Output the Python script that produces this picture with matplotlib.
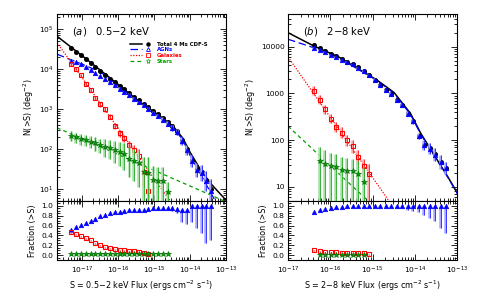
import numpy as np
import matplotlib
matplotlib.use('Agg')
import matplotlib.pyplot as plt
from matplotlib.ticker import (LogLocator, FixedLocator, MultipleLocator,
                               FixedFormatter, NullFormatter, FormatStrFormatter)
from matplotlib.lines import Line2D
from matplotlib.legend_handler import HandlerTuple

plt.rcParams['font.family'] = ['DejaVu Sans']
plt.rcParams['mathtext.fontset'] = 'dejavusans'

# ================= 0.5-2 keV (soft) =================
soft_logS = [-17.30, -17.17, -17.03, -16.90, -16.76, -16.63, -16.50, -16.36, -16.23, -16.09,
             -15.96, -15.83, -15.69, -15.56, -15.42, -15.29, -15.16, -15.02, -14.89, -14.75,
             -14.62, -14.49, -14.35, -14.22, -14.08, -13.95, -13.82, -13.68, -13.55, -13.42]
soft_total = [4.52, 4.43, 4.34, 4.24, 4.14, 4.04, 3.94, 3.84, 3.75, 3.67,
              3.58, 3.49, 3.40, 3.31, 3.22, 3.13, 3.05, 2.95, 2.87, 2.77,
              2.67, 2.57, 2.45, 2.23, 1.99, 1.73, 1.51, 1.43, 1.23, 0.99]
soft_agn = [4.21, 4.17, 4.12, 4.05, 3.97, 3.89, 3.82, 3.74, 3.67, 3.60,
            3.51, 3.43, 3.35, 3.26, 3.17, 3.09, 3.01, 2.90, 2.82, 2.73,
            2.63, 2.53, 2.42, 2.19, 1.97, 1.70, 1.47, 1.39, 1.20, 0.95]
soft_agn_err = [0.03, 0.03, 0.03, 0.03, 0.03, 0.03, 0.03, 0.03, 0.03, 0.03,
                0.03, 0.03, 0.04, 0.04, 0.04, 0.04, 0.05, 0.05, 0.05, 0.06,
                0.06, 0.07, 0.08, 0.10, 0.12, 0.15, 0.18, 0.20, 0.25, 0.30]
soft_gal = [4.12, 4.01, 3.84, 3.63, 3.47, 3.27, 3.12, 2.99, 2.81, 2.58,
            2.39, 2.27, 2.10, 1.97, 1.82, 1.43, 0.96]
soft_gal_err = [0.04, 0.04, 0.04, 0.05, 0.05, 0.05, 0.06, 0.06, 0.07, 0.08,
                0.08, 0.09, 0.10, 0.12, 0.18, 0.35, 0.60]
soft_star = [2.33, 2.29, 2.25, 2.22, 2.18, 2.14, 2.10, 2.06, 2.02, 1.98,
             1.93, 1.88, 1.76, 1.69, 1.64, 1.43, 1.39, 1.23, 1.20, 1.20, 0.92]
soft_star_hi = [0.12, 0.12, 0.13, 0.13, 0.14, 0.15, 0.16, 0.18, 0.20, 0.22,
                0.24, 0.26, 0.28, 0.30, 0.32, 0.38, 0.40, 0.35, 0.35, 0.35, 0.25]
soft_star_lo = [0.12, 0.13, 0.14, 0.15, 0.16, 0.18, 0.20, 0.25, 0.28, 0.32,
                0.35, 0.40, 0.45, 0.50, 0.60, 1.00, 1.00, 1.00, 1.00, 1.00, 1.00]
soft_frac_agn = [0.52, 0.58, 0.62, 0.66, 0.70, 0.74, 0.79, 0.82, 0.85, 0.87,
                 0.88, 0.89, 0.91, 0.91, 0.92, 0.92, 0.93, 0.95, 0.95, 0.95,
                 0.95, 0.95, 0.94, 0.92, 0.91, 1.00, 1.00, 1.00, 1.00, 1.00]
soft_frac_agn_lo = [0.02, 0.02, 0.02, 0.02, 0.02, 0.02, 0.02, 0.02, 0.02, 0.02,
                    0.02, 0.02, 0.02, 0.02, 0.02, 0.02, 0.03, 0.03, 0.03, 0.03,
                    0.04, 0.05, 0.08, 0.25, 0.28, 0.32, 0.45, 0.55, 0.75, 0.70]
soft_frac_gal = [0.47, 0.42, 0.39, 0.34, 0.30, 0.25, 0.21, 0.17, 0.14, 0.12,
                 0.11, 0.10, 0.09, 0.08, 0.07, 0.05, 0.03]
soft_frac_star = [0.02, 0.02, 0.02, 0.02, 0.02, 0.02, 0.02, 0.02, 0.02, 0.02,
                  0.02, 0.02, 0.02, 0.02, 0.02, 0.03, 0.03, 0.03, 0.03, 0.03, 0.03]
soft_xticks = [1e-17, 1e-16, 1e-15, 1e-14, 1e-13]
soft_xticklabels = ['$10^{-17}$', '$10^{-16}$', '$10^{-15}$', '$10^{-14}$', '$10^{-13}$']

# model curves (knots, log10 space)
soft_tot_line_S = [-17.70, -16.90, -16.20, -15.39, -14.83, -14.45, -14.20, -14.00, -13.72, -13.44, -13.00]
soft_tot_line_N = [4.82, 4.26, 3.76, 3.17, 2.82, 2.55, 2.27, 1.92, 1.50, 1.15, 0.72]
soft_agn_line_S = [-17.70, -17.00, -16.50, -16.20, -15.39, -14.83, -14.45, -14.20, -14.00, -13.70, -13.30, -13.10]
soft_agn_line_N = [4.37, 4.12, 3.93, 3.73, 3.15, 2.80, 2.52, 2.22, 1.84, 1.36, 0.70, 0.40]
soft_gal_line_S = [-17.70, -14.40]
soft_gal_line_N = [4.66, 0.51]
soft_star_line_S = [-17.70, -12.90]
soft_star_line_N = [2.53, 0.64]

# ================= 2-8 keV (hard) =================
hard_logS = [-16.38, -16.25, -16.12, -15.99, -15.86, -15.73, -15.60, -15.47, -15.34, -15.21,
             -15.08, -14.95, -14.82, -14.69, -14.56, -14.43, -14.30, -14.17, -14.04, -13.91,
             -13.78, -13.65, -13.52, -13.39, -13.26]
hard_total = [4.03, 3.97, 3.91, 3.85, 3.80, 3.73, 3.68, 3.63, 3.555, 3.475,
              3.395, 3.295, 3.175, 3.075, 2.995, 2.855, 2.75, 2.575, 2.405, 2.095,
              1.905, 1.825, 1.695, 1.53, 1.405]
hard_agn = [3.97, 3.93, 3.88, 3.83, 3.78, 3.72, 3.67, 3.62, 3.55, 3.47,
            3.39, 3.29, 3.17, 3.07, 2.99, 2.85, 2.745, 2.57, 2.40, 2.09,
            1.90, 1.82, 1.69, 1.525, 1.40]
hard_agn_err = [0.02, 0.02, 0.02, 0.02, 0.02, 0.02, 0.02, 0.02, 0.02, 0.03,
                0.03, 0.03, 0.03, 0.03, 0.04, 0.04, 0.04, 0.05, 0.06, 0.07,
                0.10, 0.12, 0.14, 0.15, 0.13]
hard_gal = [3.06, 2.87, 2.66, 2.46, 2.29, 2.16, 2.00, 1.87, 1.65, 1.44, 1.28]
hard_gal_hi = [0.10, 0.10, 0.10, 0.10, 0.10, 0.12, 0.12, 0.13, 0.14, 0.15, 0.20]
hard_gal_lo = [0.10, 0.10, 0.10, 0.10, 0.11, 0.12, 0.13, 0.15, 0.17, 0.20, 0.60]
hard_star_logS = [-16.25, -16.12, -15.99, -15.86, -15.73, -15.60, -15.47, -15.34, -15.21]
hard_star = [1.55, 1.50, 1.45, 1.42, 1.37, 1.35, 1.33, 1.28, 1.11]
hard_star_hi = [0.30, 0.30, 0.28, 0.28, 0.28, 0.27, 0.27, 0.27, 0.30]
hard_star_lo = [1.00, 1.00, 1.00, 1.00, 1.00, 1.00, 1.00, 1.00, 1.00]
hard_frac_agn = [0.88, 0.91, 0.93, 0.95, 0.97, 0.98, 0.99, 0.99, 1.00, 1.00,
                 1.00, 1.00, 1.00, 1.00, 1.00, 1.00, 1.00, 1.00, 1.00, 1.00,
                 1.00, 1.00, 1.00, 1.00, 1.00]
hard_frac_agn_lo = [0.02, 0.02, 0.02, 0.02, 0.02, 0.02, 0.02, 0.02, 0.02, 0.02,
                    0.02, 0.02, 0.03, 0.03, 0.03, 0.04, 0.05, 0.08, 0.10, 0.12,
                    0.18, 0.25, 0.30, 0.45, 0.55]
hard_frac_gal = [0.11, 0.08, 0.07, 0.06, 0.06, 0.05, 0.05, 0.05, 0.04, 0.04, 0.03]
hard_frac_star = [0.01, 0.01, 0.01, 0.01, 0.01, 0.01, 0.01, 0.01, 0.01]
hard_xticks = [1e-17, 1e-16, 1e-15, 1e-14, 1e-13]
hard_xticklabels = ['$10^{-17}$', '$10^{-16}$', '$10^{-15}$', '$10^{-14}$', '$10^{-13}$']

hard_tot_line_S = [-17.00, -16.40, -15.80, -15.29, -14.90, -14.49, -14.10, -13.86, -13.54, -13.22, -12.98]
hard_tot_line_N = [4.30, 4.02, 3.78, 3.50, 3.29, 3.02, 2.57, 2.15, 1.68, 1.22, 0.85]
hard_agn_line_S = [-17.00, -16.40, -15.80, -15.29, -14.90, -14.49, -14.10, -13.86, -13.54, -13.22, -12.98]
hard_agn_line_N = [4.16, 3.98, 3.76, 3.49, 3.28, 3.00, 2.55, 2.13, 1.67, 1.21, 0.84]
hard_gal_line_S = [-17.00, -14.50]
hard_gal_line_N = [3.78, 0.56]
hard_star_line_S = [-17.00, -14.90]
hard_star_line_N = [2.30, 0.53]

BLUE, LBLUE = '#0000ff', '#a8a8ff'
RED, LRED = '#ff0000', '#ffa8a8'
GREEN, LGREEN = '#00a000', '#a6e0a6'
DGREEN = '#006400'

TICK_FS = 5.4
LAB_FS = 5.8


def lin(a):
    return 10.0 ** np.asarray(a, dtype=float)


def points(ax, logS, logN, elo, ehi, color, light, marker, ms, mfc, mec, mew, z):
    S = lin(logS)
    N = lin(logN)
    lo = N - lin(np.asarray(logN) - np.asarray(elo))
    hi = lin(np.asarray(logN) + np.asarray(ehi)) - N
    ax.errorbar(S * 10 ** -0.02, N, yerr=[lo, hi], fmt='none', ecolor=light,
                elinewidth=1.8, capsize=0, zorder=z)
    ax.errorbar(S, N, yerr=[lo, hi], fmt='none', ecolor=color,
                elinewidth=0.5, capsize=0, zorder=z + 0.1)
    ax.plot(S, N, ls='none', marker=marker, ms=ms, mfc=mfc, mec=mec, mew=mew, zorder=z + 0.2)


def fpoints(ax, logS, f, flo, color, light, marker, ms, mfc, mec, mew, z):
    S = lin(logS)
    f = np.asarray(f, dtype=float)
    lo = np.asarray(flo, dtype=float)
    ax.errorbar(S * 10 ** -0.02, f, yerr=[lo, np.zeros_like(lo)], fmt='none', ecolor=light,
                elinewidth=1.8, capsize=0, zorder=z)
    ax.errorbar(S, f, yerr=[lo, np.zeros_like(lo)], fmt='none', ecolor=color,
                elinewidth=0.5, capsize=0, zorder=z + 0.1)
    ax.plot(S, f, ls='none', marker=marker, ms=ms, mfc=mfc, mec=mec, mew=mew, zorder=z + 0.2)


def style(ax):
    ax.tick_params(which='both', direction='in', top=True, right=True,
                   labelsize=TICK_FS, width=0.6, pad=2.5)
    ax.tick_params(which='major', length=4)
    ax.tick_params(which='minor', length=2)
    for sp in ax.spines.values():
        sp.set_linewidth(0.8)


fig = plt.figure(figsize=(4.81, 2.96), dpi=100)

W = 169 / 481
TOP_B, TOP_H = 1 - 201 / 296, 187 / 296
BOT_B, BOT_H = 1 - 260 / 296, 59 / 296
panels = [
    dict(x0=57 / 481, xlim=(2e-18, 1e-13), ylim=(5, 2.37e5), band='0.5\u22122', tag='a',
         xticks=soft_xticks, xticklabels=soft_xticklabels,
         logS=soft_logS, total=soft_total, agn=soft_agn, agn_err=soft_agn_err,
         gal=soft_gal, gal_lo=soft_gal_err, gal_hi=soft_gal_err, gal_S=soft_logS[:len(soft_gal)],
         star=soft_star, star_lo=soft_star_lo, star_hi=soft_star_hi, star_S=soft_logS[:len(soft_star)],
         fagn=soft_frac_agn, fagn_lo=soft_frac_agn_lo, fgal=soft_frac_gal, fstar=soft_frac_star,
         lines=[(soft_tot_line_S, soft_tot_line_N, 'k', '-', 1.1),
                (soft_agn_line_S, soft_agn_line_N, BLUE, (0, (6, 3)), 0.9),
                (soft_gal_line_S, soft_gal_line_N, RED, (0, (1, 1.2)), 0.9),
                (soft_star_line_S, soft_star_line_N, GREEN, (0, (3, 2.5)), 0.9)],
         yticks=[1e1, 1e2, 1e3, 1e4, 1e5],
         yticklabels=['$10^{1}$', '$10^{2}$', '$10^{3}$', '$10^{4}$', '$10^{5}$'], legend=True),
    dict(x0=288 / 481, xlim=(1e-17, 1e-13), ylim=(5, 5e4), band='2\u22128', tag='b',
         xticks=hard_xticks, xticklabels=hard_xticklabels,
         logS=hard_logS, total=hard_total, agn=hard_agn, agn_err=hard_agn_err,
         gal=hard_gal, gal_lo=hard_gal_lo, gal_hi=hard_gal_hi, gal_S=hard_logS[:len(hard_gal)],
         star=hard_star, star_lo=hard_star_lo, star_hi=hard_star_hi, star_S=hard_star_logS,
         fagn=hard_frac_agn, fagn_lo=hard_frac_agn_lo, fgal=hard_frac_gal, fstar=hard_frac_star,
         lines=[(hard_tot_line_S, hard_tot_line_N, 'k', '-', 1.1),
                (hard_agn_line_S, hard_agn_line_N, BLUE, (0, (6, 3)), 0.9),
                (hard_gal_line_S, hard_gal_line_N, RED, (0, (1, 1.2)), 0.9),
                (hard_star_line_S, hard_star_line_N, GREEN, (0, (3, 2.5)), 0.9)],
         yticks=[1e1, 1e2, 1e3, 1e4],
         yticklabels=['10', '100', '1000', '10000'], legend=False),
]

for p in panels:
    ax = fig.add_axes([p['x0'], TOP_B, W, TOP_H])
    axf = fig.add_axes([p['x0'], BOT_B, W, BOT_H])
    for a in (ax, axf):
        a.set_xscale('log')
        a.set_xlim(*p['xlim'])
        a.xaxis.set_major_locator(FixedLocator(p['xticks']))
        a.xaxis.set_minor_locator(LogLocator(base=10, subs=np.arange(2, 10), numticks=20))
        a.xaxis.set_minor_formatter(NullFormatter())
    ax.xaxis.set_major_formatter(NullFormatter())
    axf.xaxis.set_major_formatter(FixedFormatter(p['xticklabels']))
    ax.set_yscale('log')
    ax.set_ylim(*p['ylim'])

    handles = []
    for (ls_S, ls_N, c, ls, lw) in p['lines']:
        h, = ax.plot(lin(ls_S), lin(ls_N), color=c, ls=ls, lw=lw, zorder=2)
        handles.append(h)

    # total
    ax.plot(lin(p['logS']), lin(p['total']), ls='none', marker='o', ms=2.6,
            mfc='k', mec='k', zorder=3)
    points(ax, p['logS'], p['agn'], p['agn_err'], p['agn_err'], BLUE, LBLUE,
           '^', 3.2, BLUE, BLUE, 0.5, 4)
    points(ax, p['gal_S'], p['gal'], p['gal_lo'], p['gal_hi'], RED, LRED,
           's', 3.0, 'none', RED, 0.8, 5)
    points(ax, p['star_S'], p['star'], p['star_lo'], p['star_hi'], GREEN, LGREEN,
           '*', 4.4, GREEN, DGREEN, 0.4, 6)

    ax.yaxis.set_major_locator(FixedLocator(p['yticks']))
    ax.yaxis.set_major_formatter(FixedFormatter(p['yticklabels']))
    ax.yaxis.set_minor_locator(LogLocator(base=10, subs=np.arange(2, 10)))
    ax.yaxis.set_minor_formatter(NullFormatter())
    style(ax)
    ax.set_ylabel('N(>S) (deg$^{-2}$)', fontsize=LAB_FS, labelpad=2)

    ax.text(0.09, 0.905, '($\\it{' + p['tag'] + '}$)   ' + p['band'] + ' keV',
            transform=ax.transAxes, fontsize=7.2, ha='left', va='center')

    if p['legend']:
        mk_tot = Line2D([], [], ls='none', marker='o', ms=2.2, mfc='k', mec='k')
        mk_agn = Line2D([], [], ls='none', marker='^', ms=2.8, mfc='none', mec=BLUE, mew=0.6)
        mk_gal = Line2D([], [], ls='none', marker='s', ms=2.6, mfc='none', mec=RED, mew=0.6)
        mk_star = Line2D([], [], ls='none', marker='*', ms=3.6, mfc='none', mec=GREEN, mew=0.5)
        leg = ax.legend([(handles[0], mk_tot), (handles[1], mk_agn), (handles[2], mk_gal),
                         (handles[3], mk_star)],
                        ['Total 4 Ms CDF-S', 'AGNs', 'Galaxies', 'Stars'],
                        handler_map={tuple: HandlerTuple(ndivide=None, pad=0)},
                        loc='upper left', bbox_to_anchor=(0.43, 0.855), frameon=False,
                        fontsize=3.9, handlelength=4.4, handletextpad=0.5,
                        labelspacing=0.12, borderpad=0.1, borderaxespad=0)
        for t, c in zip(leg.get_texts(), ['k', BLUE, RED, GREEN]):
            t.set_color(c)
            t.set_fontweight('bold')

    # fraction panel
    axf.set_ylim(-0.1, 1.1)
    fpoints(axf, p['logS'], p['fagn'], p['fagn_lo'], BLUE, LBLUE, '^', 3.2, BLUE, BLUE, 0.5, 4)
    fpoints(axf, p['gal_S'], p['fgal'], [0.02] * len(p['fgal']), RED, LRED,
            's', 3.0, 'none', RED, 0.8, 5)
    fpoints(axf, p['star_S'], p['fstar'], [0.01] * len(p['fstar']), GREEN, LGREEN,
            '*', 4.4, GREEN, DGREEN, 0.4, 6)
    axf.yaxis.set_major_locator(MultipleLocator(0.2))
    axf.yaxis.set_minor_locator(MultipleLocator(0.05))
    axf.yaxis.set_major_formatter(FormatStrFormatter('%.1f'))
    style(axf)
    axf.tick_params(axis='x', pad=3.5)
    axf.set_ylabel('Fraction (>S)', fontsize=LAB_FS, labelpad=3)
    axf.set_xlabel('S = ' + p['band'] + ' keV Flux (ergs cm$^{-2}$ s$^{-1}$)',
                   fontsize=LAB_FS, labelpad=1.5)

fig.savefig('out.png', dpi=100)
